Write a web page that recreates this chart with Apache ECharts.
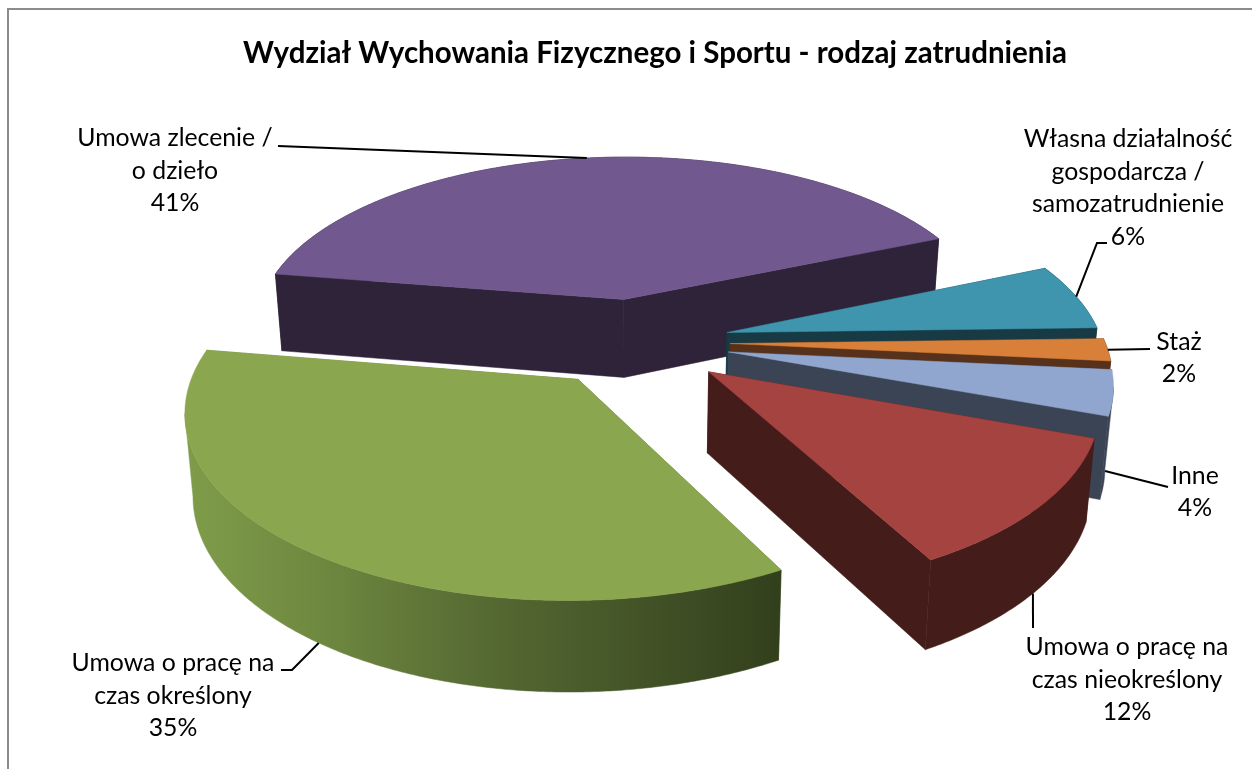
<!DOCTYPE html>
<html>
<head>
<meta charset="utf-8">
<title>Rodzaj zatrudnienia</title>
<script src="https://cdn.jsdelivr.net/npm/echarts@6/dist/echarts.min.js"></script>
<style>
  html, body { margin: 0; padding: 0; background: #fff; }
  #chart { width: 1252px; height: 769px; }
</style>
</head>
<body>
<div id="chart"></div>
<script>
// pie order, clockwise from the first slice
var categories = [
  'Umowa o pracę na\nczas nieokreślony',
  'Umowa o pracę na\nczas określony',
  'Umowa zlecenie /\no dzieło',
  'Własna działalność\ngospodarcza /\nsamozatrudnienie',
  'Staż',
  'Inne'
];
var shares = [11.6, 35.4, 41, 6, 2, 4];
var topColors = ['#A54341', '#8AA64F', '#71588F', '#3F95AD', '#D8803A', '#91A6CE'];
var wallColors = ['#441C1A', '#6B8240', '#2E2339', '#173A45', '#57311A', '#3A4454'];

// label centre + rest of the leader line, after it leaves the slice
var labelPlaces = [
  { x: 1127, y: 680, leader: [[1033, 628]], wall: 1 },
  { x: 173, y: 696, leader: [[292, 670], [281, 670]], wall: 1 },
  { x: 175, y: 171, leader: [[278, 146]], wall: 0 },
  { x: 1128, y: 188, leader: [[1097, 243], [1107, 243]], wall: 0 },
  { x: 1179, y: 358, leader: [[1150, 349]], wall: 0 },
  { x: 1195, y: 492, leader: [[1168, 487]], wall: 0.95 }
];

var firstAngle = 110;
var cx = 635, cy = 342;
var radius = 375, explode = 95, depth = 78;
var persp = 0.0004, tilt = 0.468, bottomShrink = 0.982;
var rad = Math.PI / 180;

var total = shares.reduce(function (a, b) { return a + b; }, 0);
var slices = [];
var running = firstAngle;
shares.forEach(function (v, i) {
  var span = v / total * 360;
  slices.push({ idx: i, a0: running, a1: running + span, mid: running + span / 2 });
  running += span;
});

function project(X, Y, h) {
  var s = 1 / (1 - persp * Y);
  var x = cx + X * s;
  var y = cy + Y * tilt * s;
  if (h) {
    x = cx + (x - cx) * (1 - (1 - bottomShrink) * h / depth);
    y += h * (0.346 + 0.678 * s);
  }
  return [x, y];
}

function apex(sl) {
  return [explode * Math.sin(sl.mid * rad), -explode * Math.cos(sl.mid * rad)];
}

function rimPoint(sl, ang, h) {
  var o = apex(sl);
  return project(o[0] + radius * Math.sin(ang * rad), o[1] - radius * Math.cos(ang * rad), h);
}

function arcPoints(sl, h) {
  var pts = [];
  var n = Math.ceil((sl.a1 - sl.a0) * 2);
  for (var j = 0; j <= n; j++) {
    pts.push(rimPoint(sl, sl.a0 + (sl.a1 - sl.a0) * j / n, h));
  }
  return pts;
}

// far slices first so nearer ones paint over them
var drawOrder = slices.slice().sort(function (a, b) {
  return Math.cos(b.mid * rad) - Math.cos(a.mid * rad);
});

function poly(points, fill) {
  return {
    type: 'polygon',
    shape: { points: points },
    style: { fill: fill, stroke: fill, lineWidth: 0.5 },
    silent: true
  };
}

function renderSlice(params, api) {
  var sl = slices[api.value(0)];
  var o = apex(sl);
  var a = project(o[0], o[1], 0);
  var aLow = project(o[0], o[1], depth);
  var top = arcPoints(sl, 0);
  var low = arcPoints(sl, depth);
  var wall = wallColors[sl.idx];

  // rim only runs between the left and right extremes of the arc,
  // so the silhouette goes straight from the top edge to the bottom edge
  var xs = top.map(function (p) { return p[0]; });
  var xMin = Math.min.apply(null, xs), xMax = Math.max.apply(null, xs);
  var i0 = xs.indexOf(xMin), i1 = xs.indexOf(xMax);
  var from = Math.min(i0, i1), to = Math.max(i0, i1) + 1;
  var outer = top.slice(from, to).concat(low.slice(from, to).reverse());

  var outerFill = wall;
  if (sl.idx === 1) {
    // only the big green slice has a shaded rim
    outerFill = new echarts.graphic.LinearGradient(xMin, 0, xMax, 0, [
      { offset: 0, color: '#7F9C4A' },
      { offset: 0.22, color: '#6F8940' },
      { offset: 0.5, color: '#566A33' },
      { offset: 1, color: '#323F1C' }
    ], true);
  }
  return {
    type: 'group',
    children: [
      poly([a, top[0], low[0], aLow], wall),
      poly([a, top[top.length - 1], low[low.length - 1], aLow], wall),
      poly(outer, outerFill),
      poly([a].concat(top), topColors[sl.idx])
    ]
  };
}

function renderLabel(params, api) {
  var sl = slices[api.value(0)];
  var place = labelPlaces[sl.idx];
  var start = rimPoint(sl, sl.mid, place.wall * depth);
  var pct = Math.round(shares[sl.idx] / total * 100) + '%';
  return {
    type: 'group',
    children: [
      {
        type: 'polyline',
        shape: { points: [start].concat(place.leader) },
        style: { stroke: '#000', lineWidth: 2, fill: null },
        silent: true
      },
      {
        type: 'text',
        style: {
          x: place.x,
          y: place.y,
          text: categories[sl.idx] + '\n' + pct,
          font: '24.8px Lato',
          lineHeight: 32.5,
          fill: '#000',
          align: 'center',
          verticalAlign: 'middle'
        },
        silent: true
      }
    ]
  };
}

var chart = echarts.init(document.getElementById('chart'));
chart.setOption({
  animation: false,
  backgroundColor: '#fff',
  title: {
    text: 'Wydział Wychowania Fizycznego i Sportu - rodzaj zatrudnienia',
    left: 650,
    top: 33,
    textAlign: 'center',
    textStyle: { fontFamily: 'Lato', fontWeight: 'bold', fontSize: 29.5, color: '#000' }
  },
  graphic: [{
    type: 'polyline',
    shape: { points: [[8, 769], [8, 9], [1252, 9]] },
    style: { stroke: '#8C8C8C', lineWidth: 2, fill: null },
    silent: true
  }],
  series: [
    {
      type: 'custom',
      coordinateSystem: 'none',
      renderItem: renderSlice,
      data: drawOrder.map(function (sl) { return [sl.idx]; }),
      silent: true,
      z: 2
    },
    {
      type: 'custom',
      coordinateSystem: 'none',
      renderItem: renderLabel,
      data: slices.map(function (sl) { return [sl.idx]; }),
      silent: true,
      z: 3
    }
  ]
});
</script>
</body>
</html>
